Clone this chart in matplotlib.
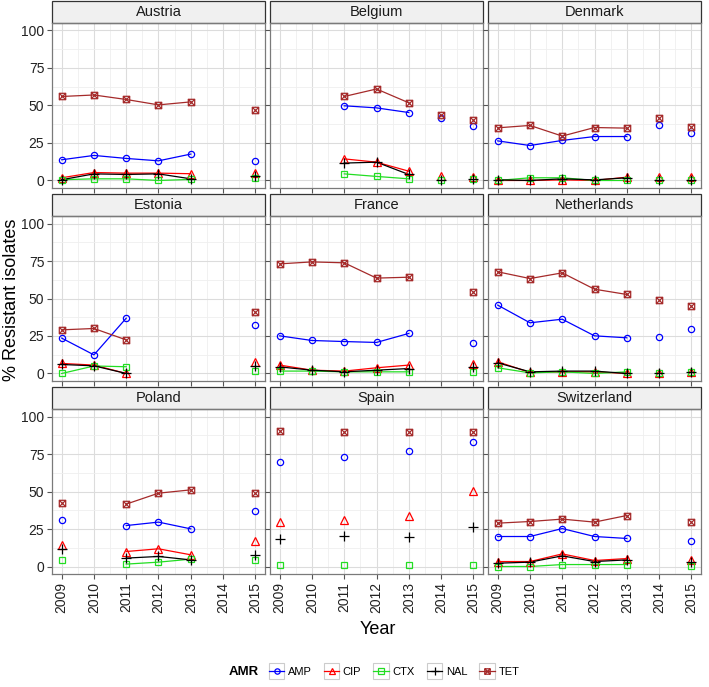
import numpy as np
import matplotlib.pyplot as plt
from matplotlib.lines import Line2D
from matplotlib.patches import Rectangle
from matplotlib.path import Path
from matplotlib.legend_handler import HandlerLine2D

plt.rcParams['font.family'] = ['Liberation Sans', 'DejaVu Sans']

nan = np.nan
years = [2009, 2010, 2011, 2012, 2013, 2014, 2015]
countries = ['Austria', 'Belgium', 'Denmark',
             'Estonia', 'France', 'Netherlands',
             'Poland', 'Spain', 'Switzerland']

# % resistant isolates per country, years 2009..2015 (nan = no data)
amp = {
    'Austria':     [13.8, 16.7, 14.7, 13.1, 17.6, nan, 13.1],
    'Belgium':     [nan, nan, 49.8, 48.4, 45.3, 41.6, 36.0],
    'Denmark':     [26.4, 23.3, 26.7, 29.3, 29.3, 36.7, 31.6],
    'Estonia':     [23.6, 12.4, 36.9, nan, nan, nan, 32.0],
    'France':      [25.1, 22.0, 21.3, 20.7, 26.7, nan, 20.0],
    'Netherlands': [45.6, 33.8, 36.2, 25.1, 23.8, 24.4, 29.6],
    'Poland':      [30.9, nan, 27.3, 29.6, 25.1, nan, 36.9],
    'Spain':       [69.8, nan, 72.9, nan, 77.1, nan, 83.1],
    'Switzerland': [20.0, 20.0, 25.3, 20.0, 18.7, nan, 17.3],
}
cip = {
    'Austria':     [1.8, 5.3, 4.9, 4.9, 4.5, nan, 5.3],
    'Belgium':     [nan, nan, 14.4, 12.2, 6.2, 2.7, 2.2],
    'Denmark':     [0.0, 0.0, 0.4, 0.0, 2.2, 2.5, 2.2],
    'Estonia':     [6.7, 5.6, 0.0, nan, nan, nan, 7.6],
    'France':      [5.6, 2.2, 1.6, 3.8, 5.6, nan, 6.0],
    'Netherlands': [7.8, 0.7, 1.1, 1.1, 0.0, 0.4, 1.1],
    'Poland':      [14.4, nan, 10.0, 11.8, 7.8, nan, 17.1],
    'Spain':       [30.0, nan, 31.1, nan, 34.0, nan, 50.4],
    'Switzerland': [3.3, 3.3, 8.4, 4.0, 5.3, nan, 4.4],
}
ctx = {
    'Austria':     [0.5, 1.1, 1.1, 0.0, 0.7, nan, 1.8],
    'Belgium':     [nan, nan, 4.4, 2.7, 1.1, 0.0, 1.1],
    'Denmark':     [0.0, 1.8, 1.8, 0.0, 0.0, 0.0, 0.0],
    'Estonia':     [0.0, 5.0, 4.5, nan, nan, nan, 1.5],
    'France':      [1.6, 1.6, 1.1, 1.1, 1.1, nan, 1.1],
    'Netherlands': [3.8, 0.4, 1.1, 0.0, 1.1, 0.4, 1.1],
    'Poland':      [4.4, nan, 1.6, 2.9, 4.9, nan, 4.4],
    'Spain':       [1.1, nan, 0.7, nan, 0.7, nan, 0.7],
    'Switzerland': [0.0, 0.0, 1.3, 1.3, 1.3, nan, 0.4],
}
nal = {
    'Austria':     [0.5, 4.4, 4.0, 4.4, 1.1, nan, 2.7],
    'Belgium':     [nan, nan, 11.6, 12.2, 4.0, 0.4, 1.1],
    'Denmark':     [0.4, 0.0, 1.1, 0.4, 1.8, 0.4, 0.4],
    'Estonia':     [6.0, 5.1, 0.0, nan, nan, nan, 5.3],
    'France':      [4.4, 2.2, 1.1, 2.2, 3.3, nan, 4.4],
    'Netherlands': [7.1, 1.1, 1.6, 1.6, 0.0, 0.4, 1.1],
    'Poland':      [11.6, nan, 5.6, 6.7, 4.4, nan, 7.8],
    'Spain':       [18.2, nan, 20.4, nan, 19.6, nan, 26.2],
    'Switzerland': [2.2, 2.9, 7.1, 3.3, 4.4, nan, 3.3],
}
tet = {
    'Austria':     [56.0, 57.0, 54.0, 50.4, 52.4, nan, 47.0],
    'Belgium':     [nan, nan, 56.0, 61.0, 51.8, 43.8, 40.0],
    'Denmark':     [35.1, 36.7, 29.6, 35.3, 34.9, 41.6, 35.6],
    'Estonia':     [29.1, 30.0, 22.4, nan, nan, nan, 40.9],
    'France':      [73.1, 74.4, 73.8, 63.6, 64.2, nan, 54.4],
    'Netherlands': [67.8, 63.3, 67.1, 56.2, 52.7, 49.3, 45.1],
    'Poland':      [42.4, nan, 41.6, 48.9, 51.1, nan, 48.9],
    'Spain':       [90.4, nan, 89.6, nan, 89.6, nan, 89.6],
    'Switzerland': [28.9, 30.0, 31.6, 29.6, 34.0, nan, 30.0],
}

# square with a cross, like ggplot shape 7
sq_x = Path([(-1, -1), (1, -1), (1, 1), (-1, 1), (-1, -1), (1, 1), (-1, 1), (1, -1)],
            [Path.MOVETO, Path.LINETO, Path.LINETO, Path.LINETO, Path.LINETO,
             Path.LINETO, Path.MOVETO, Path.LINETO])

series = [
    ('AMP', amp, '#0000ff', 'o', 4.5),
    ('CIP', cip, '#ff0000', '^', 5.5),
    ('CTX', ctx, '#22dd22', 's', 4.8),
    ('NAL', nal, '#000000', '+', 7.0),
    ('TET', tet, '#a52a2a', sq_x, 4.6),
]

fig, axes = plt.subplots(3, 3, figsize=(7.09, 6.87), dpi=100)
fig.subplots_adjust(left=52/709, right=701/709, top=1-23/687, bottom=1-574/687,
                    wspace=0.0235, hspace=0.17)

strip_h = 22/165
yrs = np.array(years)
for i, (ax, name) in enumerate(zip(axes.flat, countries)):
    for lab, d, col, mk, ms in series:
        y = np.array(d[name], dtype=float)
        # 2009-2013 series are joined; 2014 and 2015 stand alone
        ax.plot(yrs[:5], y[:5], color=col, lw=0.9, zorder=2)
    for lab, d, col, mk, ms in series:
        y = np.array(d[name], dtype=float)
        ax.plot(yrs, y, ls='none', marker=mk, ms=ms, mfc='none', mec=col,
                mew=0.9, zorder=3)

    ax.set_xlim(2008.7, 2015.3)
    ax.set_ylim(-5, 105)
    ax.set_xticks(years)
    ax.set_xticks(np.arange(2009.5, 2015, 1), minor=True)
    ax.set_yticks([0, 25, 50, 75, 100])
    ax.set_yticks([12.5, 37.5, 62.5, 87.5], minor=True)
    ax.grid(which='major', color='#dcdcdc', lw=0.8)
    ax.grid(which='minor', color='#efefef', lw=0.6)
    ax.set_axisbelow(True)
    for sp in ax.spines.values():
        sp.set_color('#7a7a7a')
        sp.set_linewidth(0.9)
    ax.tick_params(which='major', direction='out', length=3.5, width=0.8,
                   color='#555555', labelsize=10, labelcolor='#222222', pad=2)
    ax.tick_params(which='minor', length=0)
    ax.set_xticklabels([str(v) for v in years], rotation=90)
    if i % 3 != 0:
        ax.tick_params(axis='y', labelleft=False)
    if i < 6:
        ax.tick_params(axis='x', labelbottom=False)

    ax.add_patch(Rectangle((0, 1), 1, strip_h, transform=ax.transAxes, clip_on=False,
                           facecolor='#f0f0f0', edgecolor='#333333', lw=0.9))
    ax.text(0.5, 1 + strip_h/2, name, transform=ax.transAxes, ha='center',
            va='center', fontsize=10.5, color='#1a1a1a')

fig.text(12/709, 1-300/687, '% Resistant isolates', rotation=90, ha='center',
         va='center', fontsize=13)
fig.text(378/709, 1-630/687, 'Year', ha='center', va='center', fontsize=13)


class BoxHandler(HandlerLine2D):
    def create_artists(self, legend, orig_handle, xdescent, ydescent, width,
                       height, fontsize, trans):
        arts = super().create_artists(legend, orig_handle, xdescent, ydescent,
                                      width, height, fontsize, trans)
        yc = -ydescent + height/2
        box = Rectangle((-xdescent, yc - width/2), width, width, transform=trans,
                        facecolor='white', edgecolor='#cccccc', lw=0.8)
        return [box] + arts


handles = [Line2D([], [], color=col, lw=0.9, marker=mk, ms=ms*0.85, mfc='none',
                  mec=col, mew=0.9) for lab, d, col, mk, ms in series]
labels = [s[0] for s in series]
fig.legend(handles, labels, loc='center', bbox_to_anchor=(394/709, 1-672/687),
           ncol=5, frameon=False, fontsize=8, handlelength=1.4, handletextpad=0.3,
           columnspacing=1.1, handler_map={Line2D: BoxHandler()})
fig.text(244/709, 1-672/687, 'AMR', ha='center', va='center', fontsize=9.5,
         fontweight='bold')

fig.savefig('out.png', dpi=100)
